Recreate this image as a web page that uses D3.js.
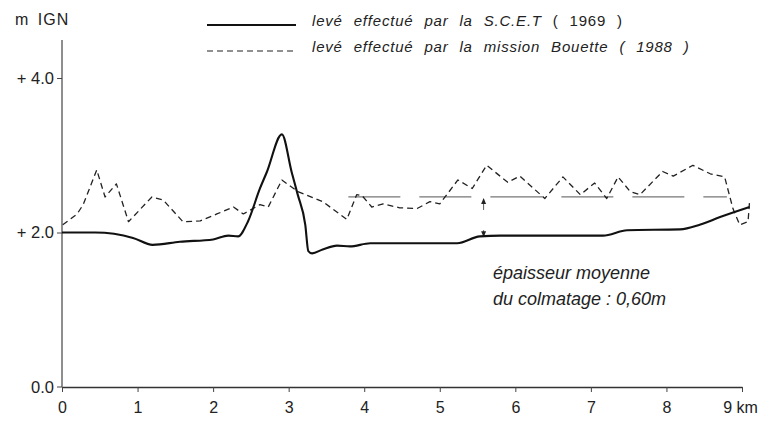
<!DOCTYPE html>
<html><head><meta charset="utf-8">
<script src="https://cdn.jsdelivr.net/npm/d3@7/dist/d3.min.js"></script>
<style>
body{margin:0;background:#fff;}
svg{display:block;font-family:"Liberation Sans",Arial,Helvetica,sans-serif;}
</style></head><body>
<svg id="c" width="763" height="421"></svg>
<script>
// 1969 survey (S.C.E.T) — distance km, elevation m IGN
const scetKm = [0,0.44,0.94,1.2,1.56,2.0,2.2,2.33,2.46,2.62,2.71,2.91,3.04,3.12,3.22,3.26,3.31,3.45,3.64,3.81,4.08,5.23,5.53,5.8,6.55,7.16,7.48,8.18,8.44,8.71,9.1];
const scetM  = [2.0,2.0,1.93,1.84,1.88,1.91,1.96,1.95,2.14,2.57,2.78,3.27,2.78,2.49,2.1,1.76,1.73,1.78,1.83,1.82,1.86,1.86,1.95,1.96,1.96,1.96,2.03,2.04,2.1,2.2,2.33];
// 1988 survey (mission Bouette)
const bouKm = [0.01,0.2,0.28,0.46,0.57,0.72,0.88,1.19,1.34,1.6,1.83,2.05,2.27,2.4,2.62,2.73,2.91,3.12,3.45,3.77,3.9,3.97,4.1,4.25,4.47,4.7,4.87,5.0,5.24,5.43,5.62,5.9,6.06,6.39,6.63,6.86,7.05,7.21,7.36,7.52,7.65,7.95,8.09,8.35,8.58,8.77,8.88,8.97,9.08,9.1];
const bouM  = [2.1,2.24,2.36,2.81,2.46,2.63,2.14,2.46,2.42,2.14,2.15,2.24,2.33,2.24,2.36,2.33,2.68,2.53,2.4,2.17,2.49,2.48,2.33,2.37,2.32,2.31,2.4,2.37,2.68,2.57,2.87,2.65,2.73,2.44,2.72,2.49,2.64,2.44,2.72,2.53,2.49,2.79,2.73,2.87,2.76,2.72,2.31,2.1,2.14,2.4];
// mean level line and thickness arrow
const meanLevel = 2.46;
const meanFrom = 3.79, meanTo = 8.8;
const arrowKm = 5.58, arrowTop = 2.46, arrowBottom = 1.94;
const xTicks = [0,1,2,3,4,5,6,7,8,9];
const xTickLabels = ["0","1","2","3","4","5","6","7","8","9 km"];
const yTicks = [0,2,4];
const yTickLabels = ["0.0","+ 2.0","+ 4.0"];
const yUnit = "m IGN";
const legendLabels = [["levé effectué par la S.C.E.T ", "( 1969 )"],["levé effectué par la mission Bouette ( 1988 )", ""]];
const noteLines = ["épaisseur moyenne","du colmatage : 0,60m"];

const svg = d3.select("#c");
const x = d3.scaleLinear().domain([0,9]).range([62,742]);
const y = d3.scaleLinear().domain([0,4]).range([387,78]);

// axes
const xa = svg.append("g").attr("transform",`translate(0,${y(0)})`)
  .call(d3.axisBottom(x).tickValues(xTicks).tickFormat((d,i)=>xTickLabels[i]).tickSize(5).tickSizeOuter(0).tickPadding(10));
xa.select(".domain").attr("stroke","#333").attr("stroke-width",1.3);
xa.selectAll(".tick line").attr("stroke","#444");
xa.selectAll("text").attr("font-size",16).attr("fill","#222").attr("font-family","Liberation Sans, Arial, sans-serif");
xa.selectAll(".tick").filter(d=>d===9).select("text").attr("dx",-2);

const ya = svg.append("g").attr("transform",`translate(${x(0)},0)`)
  .call(d3.axisLeft(y).tickValues(yTicks).tickFormat((d,i)=>yTickLabels[i]).tickSize(5).tickSizeOuter(0).tickPadding(3));
ya.select(".domain").remove();
ya.selectAll(".tick line").attr("stroke","#444");
ya.selectAll("text").attr("font-size",16.5).attr("fill","#222").attr("font-family","Liberation Sans, Arial, sans-serif");
ya.selectAll(".tick").filter(d=>d===0).select("line").remove();
svg.append("line").attr("x1",x(0)).attr("x2",x(0)).attr("y1",y(0)).attr("y2",40)
  .attr("stroke","#444").attr("stroke-width",1.2);
svg.append("line").attr("x1",x(0)-5).attr("x2",x(0)).attr("y1",y(0)).attr("y2",y(0)).attr("stroke","#444");

svg.append("text").attr("x",15).attr("y",25).attr("font-size",16).attr("letter-spacing",1).attr("word-spacing",3)
  .attr("fill","#222").text(yUnit);

// mean level long-dash line
svg.append("line").attr("x1",x(meanFrom)).attr("x2",x(meanTo)).attr("y1",y(meanLevel)).attr("y2",y(meanLevel))
  .attr("stroke","#777").attr("stroke-width",1.2).attr("stroke-dasharray","52,19");

// arrows
svg.append("line").attr("x1",x(arrowKm)).attr("x2",x(arrowKm)).attr("y1",y(arrowTop)+13).attr("y2",y(arrowTop)+2)
  .attr("stroke","#333").attr("stroke-width",0.8);
svg.append("path").attr("d",`M${x(arrowKm)},${y(arrowTop)+1} l-2.5,6 l5,0 z`).attr("fill","#222");
svg.append("line").attr("x1",x(arrowKm)).attr("x2",x(arrowKm)).attr("y1",y(arrowBottom)-7).attr("y2",y(arrowBottom)-1)
  .attr("stroke","#333").attr("stroke-width",0.8);
svg.append("path").attr("d",`M${x(arrowKm)},${y(arrowBottom)} l-2.5,-6 l5,0 z`).attr("fill","#222");

const lineLin = d3.line().x(d=>x(d[0])).y(d=>y(d[1])).curve(d3.curveLinear);
const lineSmooth = d3.line().x(d=>x(d[0])).y(d=>y(d[1])).curve(d3.curveMonotoneX);
svg.append("path").datum(bouKm.map((k,i)=>[k,bouM[i]])).attr("d",lineLin)
  .attr("fill","none").attr("stroke","#222").attr("stroke-width",1.3).attr("stroke-dasharray","6,4").attr("stroke-linejoin","round");
svg.append("path").datum(scetKm.map((k,i)=>[k,scetM[i]])).attr("d",lineSmooth)
  .attr("fill","none").attr("stroke","#111").attr("stroke-width",2.1).attr("stroke-linejoin","round");

// legend
const lg = svg.append("g");
lg.append("line").attr("x1",207).attr("x2",296).attr("y1",25).attr("y2",25).attr("stroke","#111").attr("stroke-width",1.8);
lg.append("line").attr("x1",207).attr("x2",296).attr("y1",51).attr("y2",51).attr("stroke","#222").attr("stroke-width",1.2).attr("stroke-dasharray","6,4");
[0,1].forEach(i=>{
  const t = lg.append("text").attr("x",312).attr("y",[26,52][i]).attr("font-size",15)
    .attr("letter-spacing",0.8).attr("word-spacing",6).attr("fill","#222");
  t.append("tspan").attr("font-style","italic").text(legendLabels[i][0]);
  if(legendLabels[i][1]) t.append("tspan").text(legendLabels[i][1]);
});

// note
noteLines.forEach((s,i)=>{
  svg.append("text").attr("x",493).attr("y",279+i*26).attr("font-size",18).attr("font-style","italic").attr("fill","#222").text(s);
});
</script></body></html>
